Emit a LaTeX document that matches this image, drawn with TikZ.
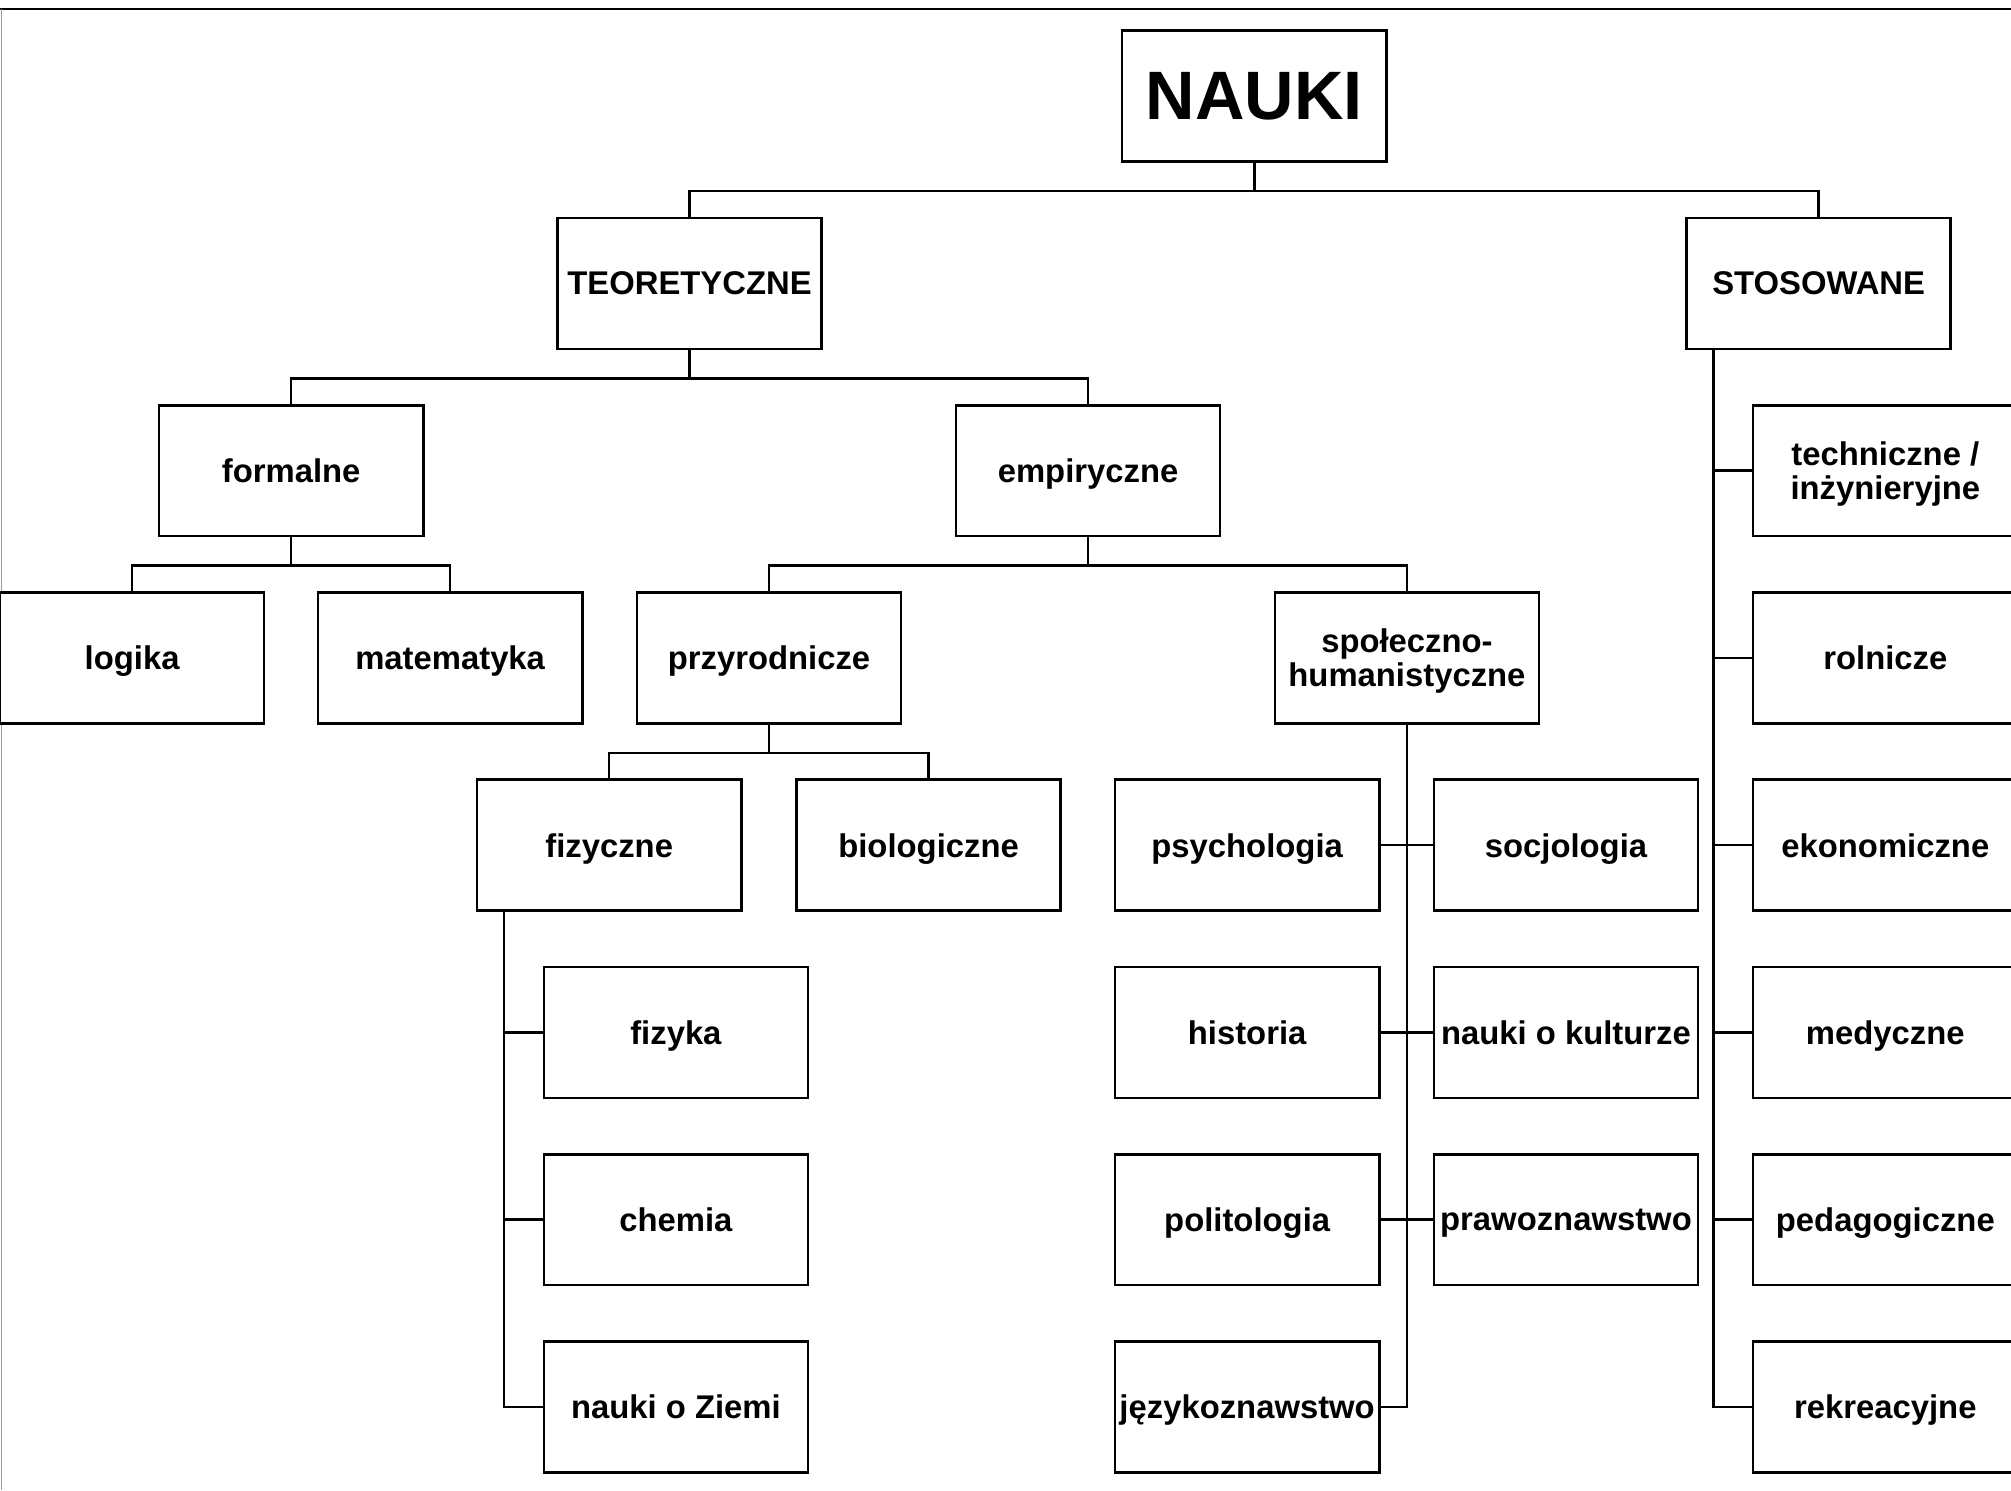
\documentclass[tikz,border=0pt]{standalone}
\usepackage{fontspec}
\setmainfont{Liberation Sans}
\usetikzlibrary{calc}
\definecolor{FrameClr}{gray}{0.6}

\begin{document}
\begin{tikzpicture}[
  box/.style={draw=black,line width=1.4pt,fill=white,minimum width=5.15cm,
    minimum height=2.55cm,inner sep=1pt,align=center,text depth=0pt,
    font=\fontsize{18.2}{19}\selectfont\bfseries},
  link/.style={line width=1.4pt,color=black}]
\clip (0,0) rectangle (39.2,29.05);

% frame
\draw[line width=1.2pt] (0,28.87) -- (39.2,28.87);
\draw[FrameClr,line width=0.8pt] (0.03,0) -- (0.03,28.87);

\node[box,font=\fontsize{38}{40}\selectfont\bfseries] (N) at (24.45,27.175) {NAUKI};

\node[box] (T) at (13.44,23.525) {TEORETYCZNE};
\node[box] (S) at (35.45,23.525) {STOSOWANE};

\node[box] (F) at (5.675,19.875) {formalne};
\node[box] (E) at (21.21,19.875) {empiryczne};

\node[box] (L) at (2.575,16.225) {logika};
\node[box] (M) at (8.775,16.225) {matematyka};
\node[box] (P) at (14.99,16.225) {przyrodnicze};
\node[box] (H) at (27.425,16.225) {społeczno-\\humanistyczne};

\node[box] (Fz) at (11.875,12.575) {fizyczne};
\node[box] (B) at (18.1,12.575) {biologiczne};

\node[box] (F1) at (13.175,8.925) {fizyka};
\node[box] (F2) at (13.175,5.275) {chemia};
\node[box] (F3) at (13.175,1.625) {nauki o Ziemi};

\node[box] (H1) at (24.31,12.575) {psychologia};
\node[box] (H2) at (24.31,8.925) {historia};
\node[box] (H3) at (24.31,5.275) {politologia};
\node[box] (H4) at (24.31,1.625) {językoznawstwo};
\node[box] (H5) at (30.525,12.575) {socjologia};
\node[box] (H6) at (30.525,8.925) {nauki o kulturze};
\node[box] (H7) at (30.525,5.275) {prawoznawstwo};

\node[box] (S1) at (36.75,19.875) {techniczne /\\inżynieryjne};
\node[box] (S2) at (36.75,16.225) {rolnicze};
\node[box] (S3) at (36.75,12.575) {ekonomiczne};
\node[box] (S4) at (36.75,8.925) {medyczne};
\node[box] (S5) at (36.75,5.275) {pedagogiczne};
\node[box] (S6) at (36.75,1.625) {rekreacyjne};

\draw[link] (N.south) -- ++(0,-0.55) -| (T.north);
\draw[link] (N.south) -- ++(0,-0.55) -| (S.north);
\draw[link] (T.south) -- ++(0,-0.55) -| (F.north);
\draw[link] (T.south) -- ++(0,-0.55) -| (E.north);
\draw[link] (F.south) -- ++(0,-0.55) -| (L.north);
\draw[link] (F.south) -- ++(0,-0.55) -| (M.north);
\draw[link] (E.south) -- ++(0,-0.55) -| (P.north);
\draw[link] (E.south) -- ++(0,-0.55) -| (H.north);
\draw[link] (P.south) -- ++(0,-0.55) -| (Fz.north);
\draw[link] (P.south) -- ++(0,-0.55) -| (B.north);

\draw[link] ([xshift=0.55cm]Fz.south west) |- (F1.west);
\draw[link] ([xshift=0.55cm]Fz.south west) |- (F2.west);
\draw[link] ([xshift=0.55cm]Fz.south west) |- (F3.west);

\draw[link] (H.south) |- (H4.east);
\draw[link] (H1.east) -- (H5.west);
\draw[link] (H2.east) -- (H6.west);
\draw[link] (H3.east) -- (H7.west);

\draw[link] ([xshift=0.55cm]S.south west) |- (S1.west);
\draw[link] ([xshift=0.55cm]S.south west) |- (S2.west);
\draw[link] ([xshift=0.55cm]S.south west) |- (S3.west);
\draw[link] ([xshift=0.55cm]S.south west) |- (S4.west);
\draw[link] ([xshift=0.55cm]S.south west) |- (S5.west);
\draw[link] ([xshift=0.55cm]S.south west) |- (S6.west);

\end{tikzpicture}
\end{document}
